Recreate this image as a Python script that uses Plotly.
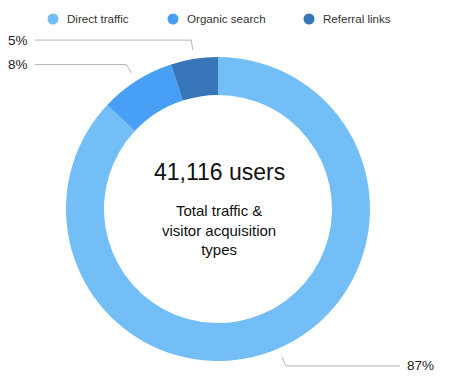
import math
import plotly.graph_objects as go

# ---- data ----
categories = ["Direct traffic", "Organic search", "Referral links"]
shares = [87, 8, 5]
colors = ["#74bef8", "#47a0f5", "#3575b8"]
total_users = "41,116 users"
center_caption = "Total traffic &<br>visitor acquisition<br>types"

# ---- layout constants (pixels) ----
W, H = 450, 384
CX, CY = 218, 209
R_OUT = 152
HOLE = 0.75
FONT = "Liberation Sans, Arial, Helvetica, sans-serif"


def px(x):
    return x / W


def py(y):
    return 1 - y / H


fig = go.Figure()
fig.add_trace(go.Pie(
    labels=categories,
    values=shares,
    hole=HOLE,
    sort=False,
    direction="clockwise",
    rotation=0,
    marker=dict(colors=colors, line=dict(width=0)),
    textinfo="none",
    hoverinfo="label+percent",
    showlegend=False,
    domain=dict(x=[px(CX - R_OUT), px(CX + R_OUT)],
                y=[py(CY + R_OUT), py(CY - R_OUT)]),
))

shapes = []
annotations = []

# leader lines and percentage labels computed from slice angles
total = sum(shares)
cum = 0
for cat, v in zip(categories, shares):
    mid = (cum + v / 2) / total * 2 * math.pi  # clockwise from top
    cum += v
    s, c = math.sin(mid), math.cos(mid)
    r1, r2 = R_OUT + 9, R_OUT + 19
    x1, y1 = CX + r1 * s, CY - r1 * c
    x2, y2 = CX + r2 * s, CY - r2 * c
    right = s > 0
    x3 = 400 if right else 35
    pct = f"{round(100 * v / total)}%"
    shapes.append(dict(type="path", xref="paper", yref="paper",
                       path=f"M {px(x1)} {py(y1)} L {px(x2)} {py(y2)} L {px(x3)} {py(y2)}",
                       line=dict(color="#b4b4b4", width=1)))
    annotations.append(dict(
        x=px(x3 + 5 if right else x3 - 5), y=py(y2), xref="paper", yref="paper",
        text=pct, showarrow=False, xanchor="left" if right else "right",
        yanchor="middle", font=dict(family=FONT, size=13.5, color="#1a1a1a")))

# legend (manual, circles)
leg_x = [53, 173, 309]
for cat, col, lx in zip(categories, colors, leg_x):
    shapes.append(dict(type="circle", xref="paper", yref="paper",
                       x0=px(lx - 5.5), x1=px(lx + 5.5),
                       y0=py(19 + 5.5), y1=py(19 - 5.5),
                       fillcolor=col, line=dict(width=0)))
    annotations.append(dict(x=px(lx + 12), y=py(19), xref="paper", yref="paper",
                            text=cat, showarrow=False, xanchor="left", yanchor="middle",
                            font=dict(family=FONT, size=11.6, color="#333333")))

# center text
annotations.append(dict(x=px(CX + 1), y=py(172), xref="paper", yref="paper",
                        text=total_users, showarrow=False, xanchor="center", yanchor="middle",
                        font=dict(family=FONT, size=23, color="#111111")))
annotations.append(dict(x=px(CX + 1), y=py(230), xref="paper", yref="paper",
                        text=center_caption, showarrow=False, xanchor="center", yanchor="middle",
                        font=dict(family=FONT, size=15, color="#111111")))

fig.update_layout(
    width=W, height=H,
    margin=dict(l=0, r=0, t=0, b=0),
    paper_bgcolor="white", plot_bgcolor="white",
    shapes=shapes, annotations=annotations,
    showlegend=False,
)

fig.write_html("out.html", config={"displayModeBar": False},
               post_script="document.body.style.margin='0';")
